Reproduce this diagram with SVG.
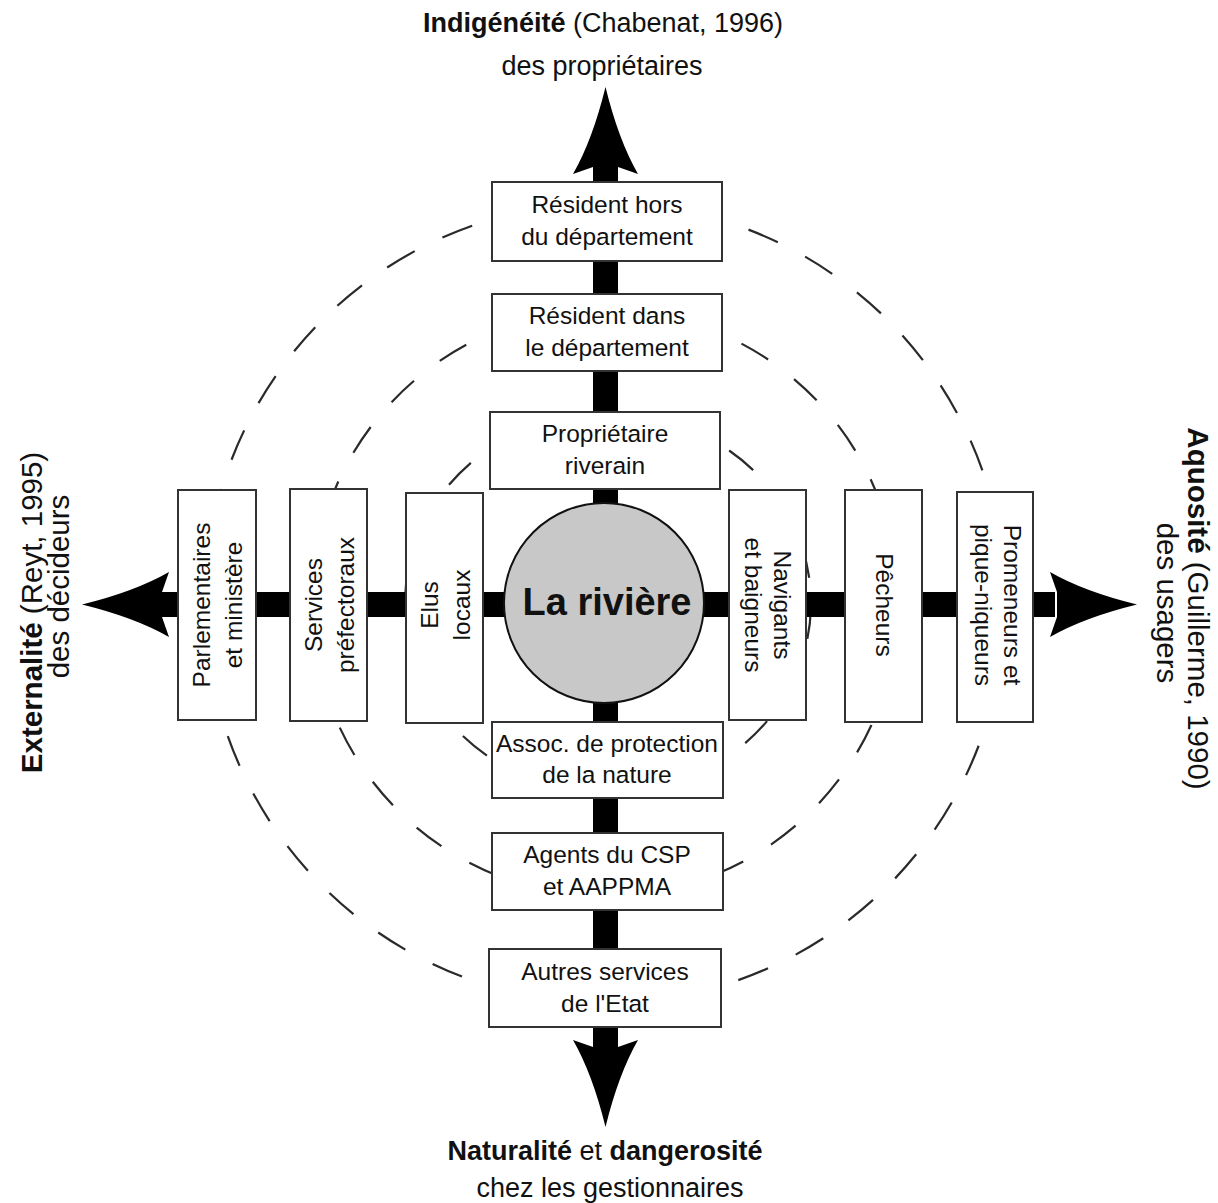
<svg xmlns="http://www.w3.org/2000/svg" xmlns:xlink="http://www.w3.org/1999/xlink" width="1218" height="1203" viewBox="0 0 1218 1203">
<style>
text{font-family:"Liberation Sans",Arial,Helvetica,sans-serif;fill:#111}
.bx{fill:#fff;stroke:#333;stroke-width:2}
.t{font-size:24.5px;text-anchor:middle}
.lab{font-size:27px;text-anchor:middle}
.side{font-size:29.5px;text-anchor:middle}
.b{font-weight:bold}
.dash{fill:none;stroke:#2a2a2a;stroke-width:2.2}
</style>
<defs>
<path id="ah" d="M0 0 Q-13 53 -32.5 87 L-12.5 80 L12.5 80 L32.5 87 Q13 53 0 0Z" fill="#000"/>
</defs>
<rect width="1218" height="1203" fill="#fff"/>
<g id="rings">
<path class="dash" d="M1005 603 A400 400 0 1 1 205 603 A400 400 0 1 1 1005 603" stroke-dasharray="32 30.832" stroke-dashoffset="-20.3"/>
<path class="dash" d="M898 603 A293 293 0 1 1 312 603 A293 293 0 1 1 898 603" stroke-dasharray="31 32.482" stroke-dashoffset="1.18"/>
<path class="dash" d="M811 603 A203 190 0 1 1 405 603 A203 190 0 1 1 811 603" stroke-dasharray="31 30.75" stroke-dashoffset="-5.1"/>
</g>
<g id="connectors">
<rect x="593" y="160" width="25" height="890" fill="#000"/>
<rect x="160" y="592" width="895" height="25" fill="#000"/>
<use xlink:href="#ah" transform="translate(605.5,87)"/>
<use xlink:href="#ah" transform="translate(605.5,1127) rotate(180)"/>
<use xlink:href="#ah" transform="translate(82,604.5) rotate(-90)"/>
<use xlink:href="#ah" transform="translate(1137,604.5) rotate(90)"/>
</g>
<g id="river">
<circle cx="604" cy="603" r="100" fill="#c8c8c8" stroke="#111" stroke-width="2"/>
<text x="607" y="615" class="b" style="font-size:38px;text-anchor:middle">La rivière</text>
</g>
<g id="n-resident-hors">
<rect class="bx" x="492" y="182" width="230" height="79"/>
<text class="t" x="607" y="213">Résident hors</text>
<text class="t" x="607" y="245">du département</text>
</g>
<g id="n-resident-dans">
<rect class="bx" x="492" y="294" width="230" height="77"/>
<text class="t" x="607" y="324">Résident dans</text>
<text class="t" x="607" y="356">le département</text>
</g>
<g id="n-proprietaire">
<rect class="bx" x="490" y="412" width="230" height="77"/>
<text class="t" x="605" y="442">Propriétaire</text>
<text class="t" x="605" y="474">riverain</text>
</g>
<g id="n-assoc">
<rect class="bx" x="492" y="722" width="231" height="76"/>
<text class="t" x="607" y="752">Assoc. de protection</text>
<text class="t" x="607" y="783">de la nature</text>
</g>
<g id="n-agents">
<rect class="bx" x="492" y="833" width="231" height="77"/>
<text class="t" x="607" y="863">Agents du CSP</text>
<text class="t" x="607" y="895">et AAPPMA</text>
</g>
<g id="n-autres">
<rect class="bx" x="489" y="949" width="232" height="78"/>
<text class="t" x="605" y="980">Autres services</text>
<text class="t" x="605" y="1012">de l'Etat</text>
</g>
<g id="n-parlementaires">
<rect class="bx" x="178" y="490" width="78" height="230"/>
<g transform="translate(217,605) rotate(-90)">
<text class="t" x="0" y="-7">Parlementaires</text>
<text class="t" x="0" y="25">et ministère</text>
</g>
</g>
<g id="n-services">
<rect class="bx" x="290" y="489" width="77" height="232"/>
<g transform="translate(328.5,605) rotate(-90)">
<text class="t" x="0" y="-7">Services</text>
<text class="t" x="0" y="25">préfectoraux</text>
</g>
</g>
<g id="n-elus">
<rect class="bx" x="406" y="493" width="77" height="230"/>
<g transform="translate(444.5,605) rotate(-90)">
<text class="t" x="0" y="-7">Elus</text>
<text class="t" x="0" y="25">locaux</text>
</g>
</g>
<g id="n-navigants">
<rect class="bx" x="729" y="490" width="77" height="230"/>
<g transform="translate(767.5,605) rotate(90)">
<text class="t" x="0" y="-6">Navigants</text>
<text class="t" x="0" y="23">et baigneurs</text>
</g>
</g>
<g id="n-pecheurs">
<rect class="bx" x="845" y="490" width="77" height="232"/>
<g transform="translate(883.5,605) rotate(90)">
<text class="t" x="0" y="8">Pêcheurs</text>
</g>
</g>
<g id="n-promeneurs">
<rect class="bx" x="957" y="492" width="76" height="230"/>
<g transform="translate(995,605) rotate(90)">
<text class="t" x="0" y="-9">Promeneurs et</text>
<text class="t" x="0" y="20">pique-niqueurs</text>
</g>
</g>
<g id="label-top">
<text class="lab" x="603" y="32"><tspan class="b">Indigénéité</tspan> (Chabenat, 1996)</text>
<text class="lab" x="602" y="75">des propriétaires</text>
</g>
<g id="label-bottom">
<text class="lab" x="605" y="1160"><tspan class="b">Naturalité</tspan> et <tspan class="b">dangerosité</tspan></text>
<text class="lab" x="610" y="1197">chez les gestionnaires</text>
</g>
<g id="label-left">
<text class="side" transform="translate(42,612.5) rotate(-90)"><tspan class="b">Externalité</tspan> (Reyt, 1995)</text>
<text class="side" transform="translate(69,586.5) rotate(-90)">des décideurs</text>
</g>
<g id="label-right">
<text class="side" transform="translate(1188,608.5) rotate(90)"><tspan class="b">Aquosité</tspan> (Guillerme, 1990)</text>
<text class="side" transform="translate(1157,603) rotate(90)">des usagers</text>
</g>
</svg>
